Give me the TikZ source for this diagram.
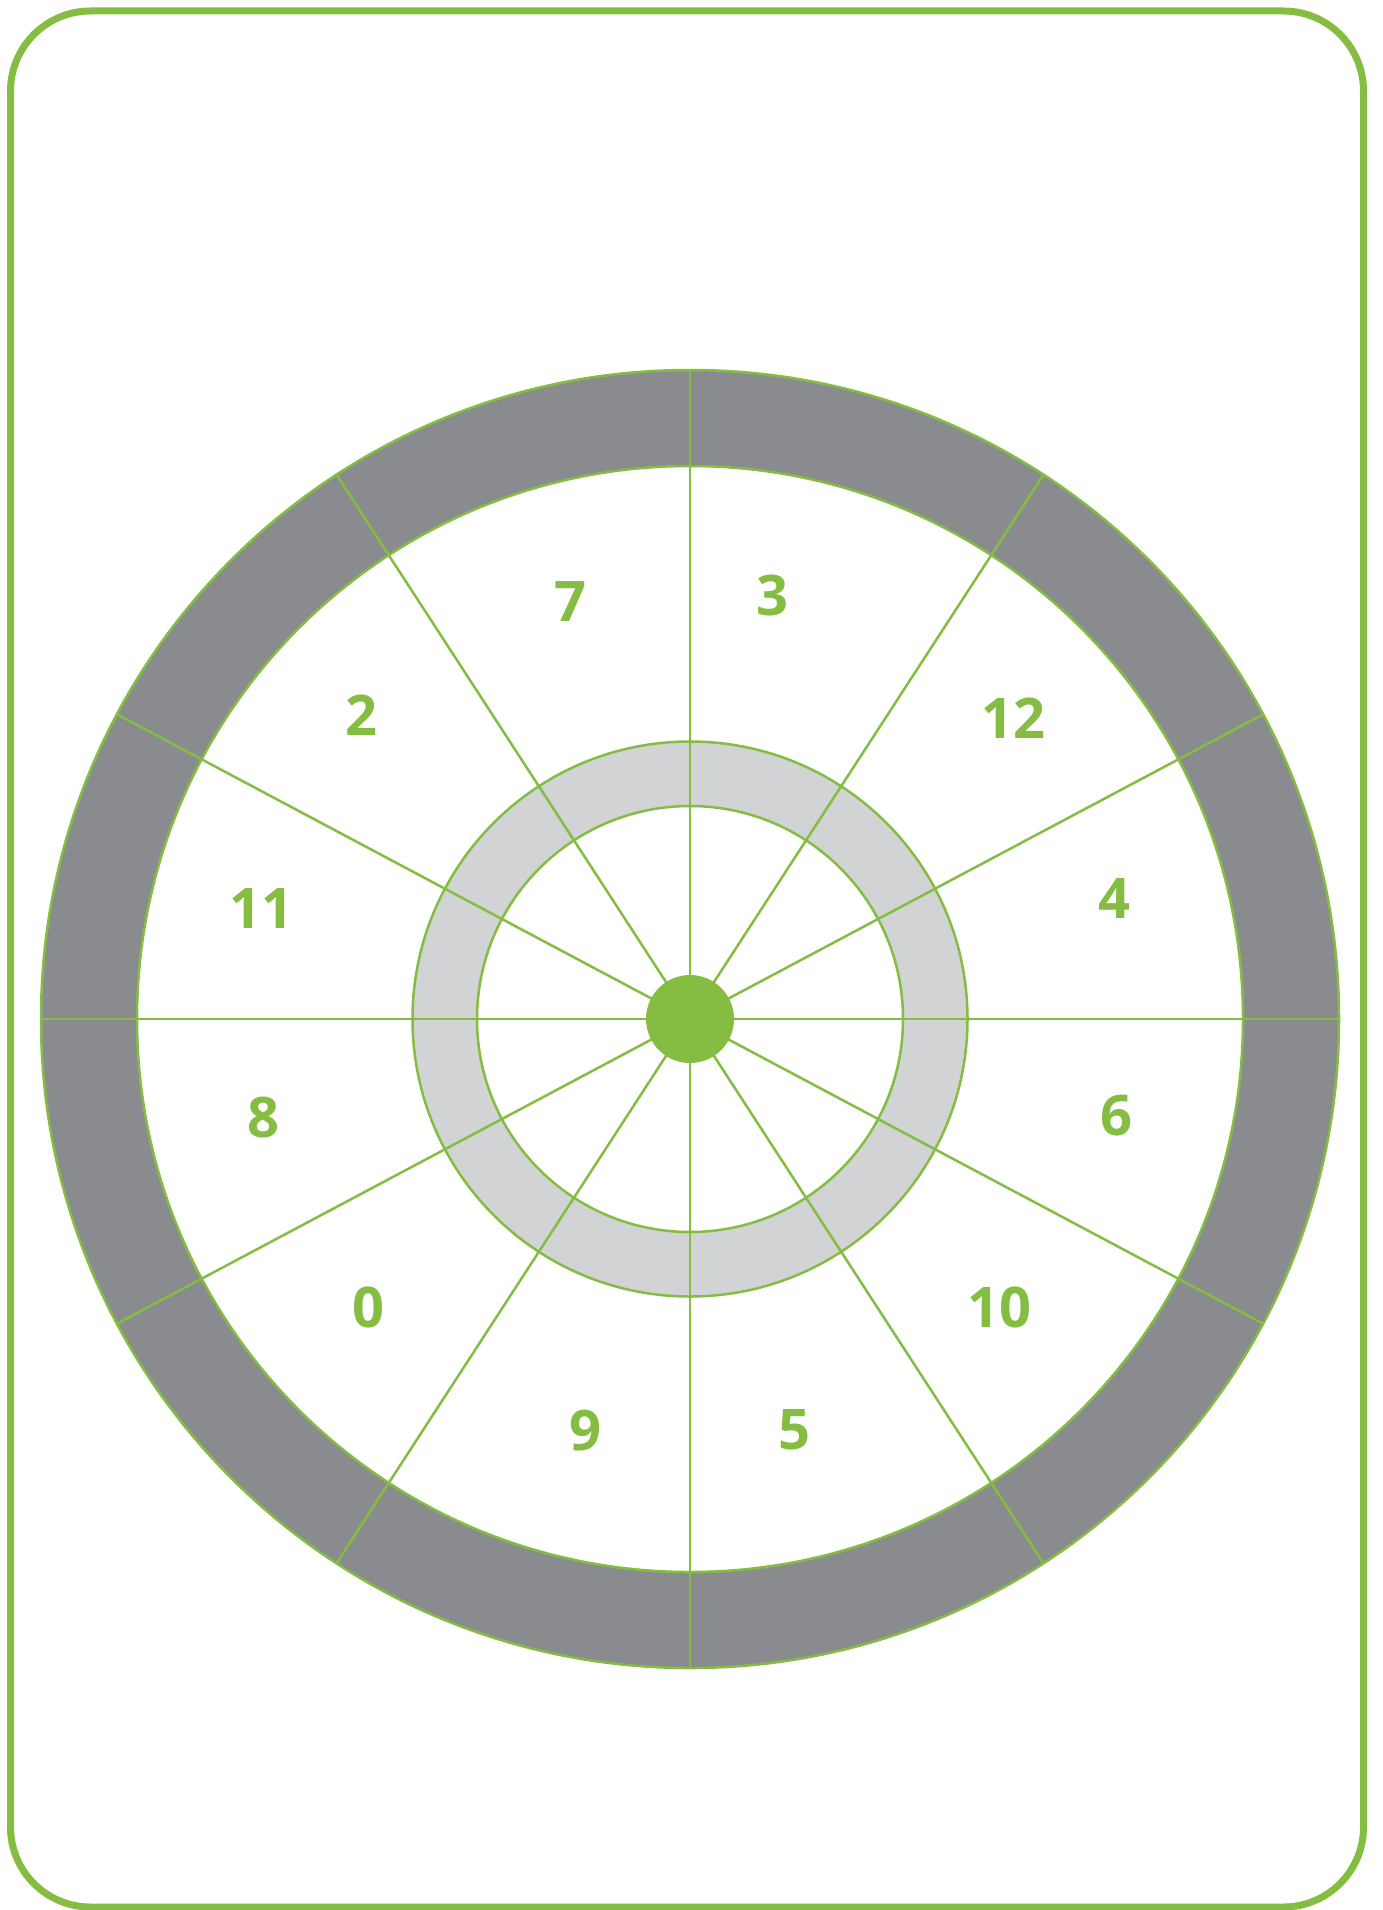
\documentclass[tikz,border=0pt]{standalone}
\usepackage{fontspec}
\setmainfont{Open Sans}
\usetikzlibrary{calc}
\definecolor{wgreen}{HTML}{84BD41}
\definecolor{wdark}{HTML}{8A8B8E}
\definecolor{wlight}{HTML}{D1D3D5}
\begin{document}
\begin{tikzpicture}[x=1pt,y=-1pt,
  frame/.style={draw=wgreen,line width=7pt,rounded corners=80pt},
  ringline/.style={draw=wgreen,line width=2.5pt},
  spoke/.style={draw=wgreen,line width=2.5pt},
  num/.style={text=wgreen,inner sep=0pt,font=\fontsize{56}{56}\selectfont\bfseries}]
\useasboundingbox (0,0) rectangle (1383,1910);
\draw[frame] (10.5,11) rectangle (1363.5,1907);
\coordinate (c) at (690,1019);
% outer dark ring
\fill[wdark] (c) circle[radius=649];
\fill[white] (c) circle[radius=553];
\draw[ringline] (c) circle[radius=649];
\draw[ringline] (c) circle[radius=553];
% inner light ring
\fill[wlight] (c) circle[radius=277.5];
\fill[white] (c) circle[radius=213];
\draw[ringline] (c) circle[radius=277.5];
\draw[ringline] (c) circle[radius=213];
% spokes
\foreach \a [count=\i] in {0,28,57,90,123,152,180,208,237,270,303,332}{
  \coordinate (e\i) at ($(c)+(\a:649)$);
  \draw[spoke] (c) -- (e\i);
}
% center dot
\fill[wgreen] (c) circle[radius=44];
% numbers
\node[num] (n7) at (570.7,601.7) {7};
\node[num] (n3) at (772.8,595.5) {3};
\node[num] (n2) at (361.8,715.7) {2};
\node[num] (n12) at (1013.3,718.3) {12};
\node[num] (n11) at (261.7,908.3) {11};
\node[num] (n4) at (1114.2,898.7) {4};
\node[num] (n8) at (263.3,1117.5) {8};
\node[num] (n6) at (1116.2,1115.8) {6};
\node[num] (n0) at (368.7,1307) {0};
\node[num] (n10) at (999.2,1307.2) {10};
\node[num] (n9) at (585.8,1430.8) {9};
\node[num] (n5) at (794.5,1430) {5};
\end{tikzpicture}
\end{document}
